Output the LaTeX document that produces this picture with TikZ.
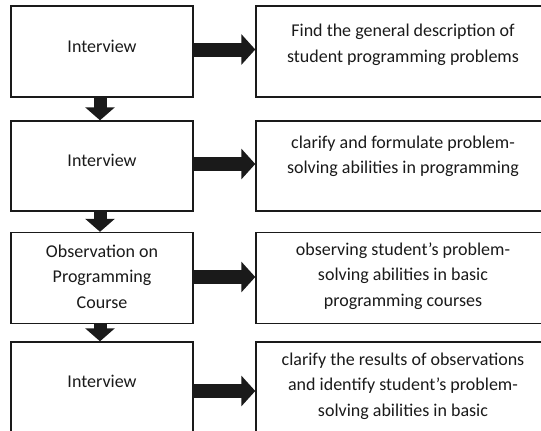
\documentclass[tikz,border=0pt]{standalone}
\usepackage{fontspec}
\setmainfont{Carlito}
\usetikzlibrary{arrows.meta}
\definecolor{ink}{HTML}{1A1A1A}
\begin{document}
\begin{tikzpicture}[x=1pt,y=-1pt,
  box/.style={draw=ink, line width=1.4pt, fill=white, inner sep=0pt, rectangle},
  leftbox/.style={box, minimum width=182pt},
  rightbox/.style={box, minimum width=340pt},
  label/.style={text=ink, align=center, inner sep=0pt,
    font=\fontsize{18}{25.5}\selectfont},
  flowright/.style={ink, line width=14pt,
    -{Triangle[width=30pt,length=14pt]}},
  flowdown/.style={ink, line width=13pt,
    -{Triangle[width=29pt,length=13pt]}}
]
\path[use as bounding box] (0,0) rectangle (541,431);
\clip (0,0) rectangle (541,431);

% left column: method steps
\node[leftbox, minimum height=91pt]  (l1) at (102,51.5) {};
\node[leftbox, minimum height=90pt]  (l2) at (102,166) {};
\node[leftbox, minimum height=91pt]  (l3) at (102,278) {};
\node[leftbox, minimum height=100pt] (l4) at (102,392) {};

% right column: purpose of each step
\node[rightbox, minimum height=91pt]  (r1) at (426,51.5) {};
\node[rightbox, minimum height=90pt]  (r2) at (426,166) {};
\node[rightbox, minimum height=91pt]  (r3) at (426,278) {};
\node[rightbox, minimum height=100pt] (r4) at (426,392) {};

% texts
\node[label] (t1) at (102,46) {Interview};
\node[label] (t2) at (102,160) {Interview};
\node[label] (t3) at (102,276.5) {Observation on\\Programming\\Course};
\node[label] (t4) at (102,381) {Interview};

\node[label] (u1) at (403,45) {Find the general description of\\student programming problems};
\node[label] (u2) at (403,156.5) {clarify and formulate problem-\\solving abilities in programming};
\node[label] (u3) at (403,276) {observing student’s problem-\\solving abilities in basic\\programming courses};
\node[label] (u4) at (403,386) {clarify the results of observations\\and identify student’s problem-\\solving abilities in basic};

% arrows between the steps
\draw[flowdown] ([xshift=-2pt]l1.south) -- ([xshift=-2pt]l2.north);
\draw[flowdown] ([xshift=-2pt]l2.south) -- ([xshift=-2pt]l3.north);
\draw[flowdown] ([xshift=-2pt]l3.south) -- ([xshift=-2pt]l4.north);

% arrows from each step to its purpose
\draw[flowright] ([yshift=2pt]l1.east) -- ([yshift=2pt]l1.east -| r1.west);
\draw[flowright] ([yshift=2pt]l2.east) -- ([yshift=2pt]l2.east -| r2.west);
\draw[flowright] ([yshift=1pt]l3.east) -- ([yshift=1pt]l3.east -| r3.west);
\draw[flowright] ([yshift=1pt]l4.east) -- ([yshift=1pt]l4.east -| r4.west);
\end{tikzpicture}
\end{document}
